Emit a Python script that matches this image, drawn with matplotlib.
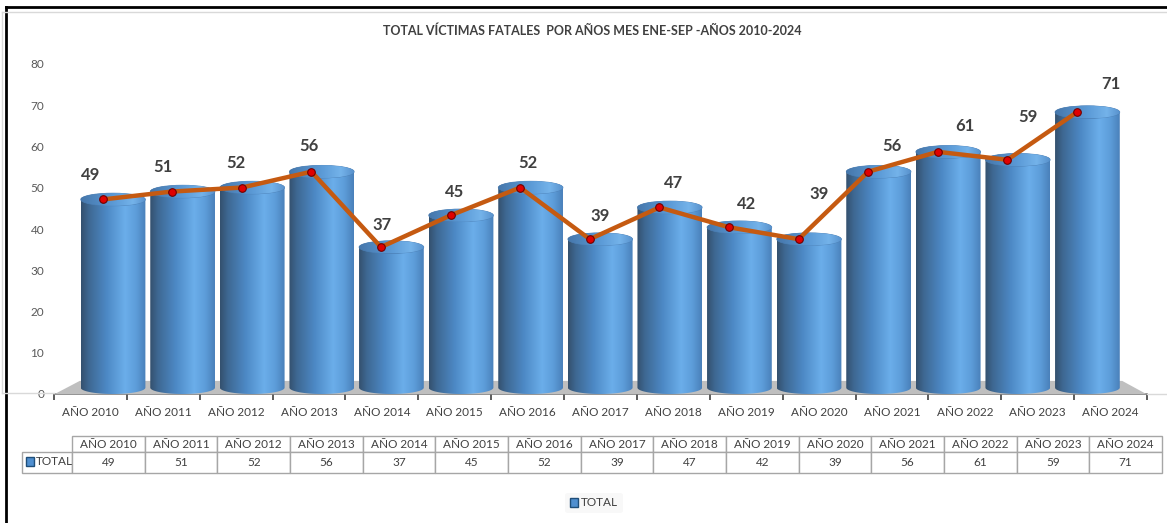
import numpy as np
import matplotlib.pyplot as plt
from matplotlib.colors import LinearSegmentedColormap
from matplotlib.patches import PathPatch, Ellipse, Polygon, Rectangle, Patch
from matplotlib.path import Path
from matplotlib.lines import Line2D

years = ['AÑO 2010', 'AÑO 2011', 'AÑO 2012', 'AÑO 2013', 'AÑO 2014',
         'AÑO 2015', 'AÑO 2016', 'AÑO 2017', 'AÑO 2018', 'AÑO 2019',
         'AÑO 2020', 'AÑO 2021', 'AÑO 2022', 'AÑO 2023', 'AÑO 2024']
totals = [49, 51, 52, 56, 37, 45, 52, 39, 47, 42, 39, 56, 61, 59, 71]
series_name = 'TOTAL'
title = 'TOTAL VÍCTIMAS FATALES  POR AÑOS MES ENE-SEP -AÑOS 2010-2024'

plt.rcParams['font.family'] = ['Lato', 'DejaVu Sans']

W, H = 1167, 523
fig = plt.figure(figsize=(W / 100, H / 100), dpi=100)

def fx(px):
  return px / W

def fy(py):
  return 1 - py / H

# plot area (pixels)
L, R, T, B = 54, 1147, 64, 394
rect = [fx(L), fy(B), (R - L) / W, (B - T) / H]

ax = fig.add_axes(rect)
ax.patch.set_visible(False)
ax3 = fig.add_axes(rect, label='cylinders')
ax3.patch.set_visible(False)
ax3.axis('off')
ax.set_zorder(1)
ax3.set_zorder(2)

n = len(totals)
idx = np.arange(n)

# ---- main axes: ticks and category labels
ax.set_xlim(-0.5, n - 0.5)
ax.set_ylim(0, 80)
ax.set_yticks(np.arange(0, 81, 10))
ax.tick_params(axis='y', length=0, pad=7, labelsize=8.5, labelcolor='#595959')
ax.set_xticks(idx)
ax.set_xticklabels(years)
ax.set_xticks(np.arange(-0.5, n, 1), minor=True)
ax.tick_params(axis='x', which='major', length=0, pad=9, labelsize=8.5, labelcolor='#404040')
ax.tick_params(axis='x', which='minor', length=4, width=1.2, color='#404040')
for s in ['top', 'right', 'left']:
  ax.spines[s].set_visible(False)
ax.spines['bottom'].set_color('#808080')
ax.spines['bottom'].set_linewidth(1.2)

# ---- cylinders in an overlay with the perspective scale
bx0 = -0.848
bscale = (R - L) / 69.6
ax3.set_xlim(bx0, bx0 + bscale)
ax3.set_ylim(0, (B - T) / 3.97)

# floor
floor = Polygon([(bx0, -0.1), (bx0 + 0.37, 3.3), (14.5, 3.3), (bx0 + bscale, -0.1)],
                closed=True, facecolor='#BFBFBF', edgecolor='none', zorder=1)
ax3.add_patch(floor)

body_cmap = LinearSegmentedColormap.from_list('body', [
  (0.0, '#34506E'), (0.12, '#3E6892'), (0.4, '#4D89C6'),
  (0.68, '#6BAEEA'), (0.85, '#5D9DDA'), (1.0, '#4A80BA')])
top_cmap = LinearSegmentedColormap.from_list('top', [
  (0.0, '#4677AB'), (0.5, '#5B9AD6'), (0.8, '#74B3EA'), (1.0, '#5891CC')])
grad = np.linspace(0, 1, 256)[None, :]

w = 0.93
ry = 1.6
yb = 1.6
t_up = np.linspace(np.pi, 0, 60)
t_dn = np.linspace(0, -np.pi, 60)
for i, v in zip(idx, totals):
  c = i
  top = np.column_stack([c + w / 2 * np.cos(t_up), v + ry * np.sin(t_up)])
  bot = np.column_stack([c + w / 2 * np.cos(t_dn), yb + ry * np.sin(t_dn)])
  verts = np.vstack([[[c - w / 2, yb]], top, bot, [[c - w / 2, yb]]])
  codes = [Path.MOVETO] + [Path.LINETO] * (len(verts) - 2) + [Path.CLOSEPOLY]
  body = PathPatch(Path(verts, codes), facecolor='none', edgecolor='none',
                   transform=ax3.transData)
  ax3.add_patch(body)
  im = ax3.imshow(grad, extent=(c - w / 2, c + w / 2, -1, v + ry), cmap=body_cmap,
                  aspect='auto', zorder=3, interpolation='bilinear')
  im.set_clip_path(body)
  cap = Ellipse((c, v), w, 2 * ry, facecolor='none', edgecolor='#4B7FB5',
                lw=0.5, transform=ax3.transData, zorder=4)
  ax3.add_patch(cap)
  im2 = ax3.imshow(grad, extent=(c - w / 2, c + w / 2, v - ry, v + ry), cmap=top_cmap,
                   aspect='auto', zorder=4, interpolation='bilinear')
  im2.set_clip_path(cap)

ax3.set_xlim(bx0, bx0 + bscale)
ax3.set_ylim(0, (B - T) / 3.97)

# line with markers
ax3.plot(idx - 0.15, totals, color='#C55A11', lw=3.2, zorder=10, solid_capstyle='round')
ax3.scatter(idx - 0.15, totals, s=30, color='#E00000', edgecolors='#6E0000',
            linewidths=0.8, zorder=11)

# data labels, placed by the category scale but drawn above the line
# (two labels were moved by hand in the original to clear the line)
label_shift = {10: (0, 28), 13: (-7, 24)}
for i, v in zip(idx, totals):
  off = label_shift.get(i, (0, 12))
  ax3.annotate(str(v), (i, v), xycoords=ax.transData, xytext=off,
               textcoords='offset points', ha='center', va='center', fontsize=12,
               fontweight='bold', color='#404040', zorder=12)

# ---- data table
TL, TR, TT, TB = 22, 1162, 436, 473
ax_t = fig.add_axes([fx(TL), fy(TB), (TR - TL) / W, (TB - TT) / H])
ax_t.axis('off')
cell_text = [[''] + years, [''] + [str(v) for v in totals]]
col_w = [50 / (TR - TL)] + [72.67 / (TR - TL)] * n
tab = ax_t.table(cellText=cell_text, colWidths=col_w, cellLoc='center', bbox=[0, 0, 1, 1])
tab.auto_set_font_size(False)
tab.set_fontsize(8.5)
for (r, cc), cell in tab.get_celld().items():
  cell.set_edgecolor('#A6A6A6')
  cell.set_linewidth(1.0)
  cell.get_text().set_color('#404040')
  cell.set_height(16 if r == 0 else 21)
tab[0, 0].visible_edges = ''
ax_t.add_patch(Rectangle((4 / (TR - TL), 0.18), 8 / (TR - TL), 0.26,
                         facecolor='#4F8FD0', edgecolor='#1F4E79', lw=1.0,
                         transform=ax_t.transAxes))
ax_t.text(14 / (TR - TL), 0.30, series_name, transform=ax_t.transAxes,
          ha='left', va='center', fontsize=8.5, color='#404040')

# ---- legend
handle = Patch(facecolor='#4F8FD0', edgecolor='#1F4E79', label=series_name)
leg = fig.legend(handles=[handle], loc='center', bbox_to_anchor=(fx(594), fy(503)),
                 frameon=True, fontsize=8.5, handlelength=0.7, handleheight=0.7,
                 handletextpad=0.25, borderpad=0.4)
leg.get_frame().set_facecolor('#F7F7F7')
leg.get_frame().set_edgecolor('none')
for txt in leg.get_texts():
  txt.set_color('#404040')

# ---- title
fig.text(fx(592), fy(31), title, ha='center', va='center', fontsize=9,
         fontweight='bold', color='#404040')

# ---- frame lines
fig.add_artist(Line2D([fx(6), fx(6)], [fy(7), 0], color='black', lw=2))
fig.add_artist(Line2D([fx(6), 1], [fy(7), fy(7)], color='black', lw=2))
fig.add_artist(Line2D([fx(2), 1], [fy(12), fy(12)], color='#D9D9D9', lw=1))
fig.add_artist(Line2D([fx(2), fx(2)], [fy(12), fy(393)], color='#D9D9D9', lw=1))
fig.add_artist(Line2D([fx(2), fx(L)], [fy(393), fy(393)], color='#D9D9D9', lw=1))
fig.add_artist(Line2D([fx(R), 1], [fy(394), fy(394)], color='#D9D9D9', lw=1))

fig.savefig('out.png', dpi=100)
